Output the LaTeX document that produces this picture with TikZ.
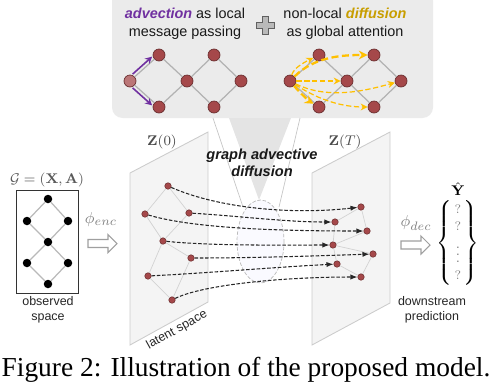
\documentclass[tikz,border=0pt]{standalone}
\usepackage[no-math]{fontspec}
\setmainfont{Liberation Sans}
\newfontfamily\capfont{Liberation Serif}
\usepackage{xcolor}
\definecolor{nodecol}{RGB}{165, 72, 74}
\definecolor{advcol}{RGB}{112, 48, 160}
\definecolor{difftxt}{RGB}{200, 158, 0}
\definecolor{diffcol}{RGB}{255, 192, 0}
\definecolor{panelcol}{RGB}{235, 235, 235}
\definecolor{conecol}{RGB}{228, 228, 228}
\definecolor{planecol}{RGB}{244, 244, 244}
\usepackage{tikz}
\usetikzlibrary{positioning, arrows.meta, calc}

\begin{document}
\begin{tikzpicture}[x=0.02cm, y=-0.02cm,
  topnode/.style={circle, fill=nodecol, draw=nodecol!65!black, line width=0.4pt,
                  inner sep=0pt, minimum size=0.24cm},
  latnode/.style={circle, fill=nodecol, draw=nodecol!65!black, line width=0.3pt,
                  inner sep=0pt, minimum size=0.13cm},
  obsnode/.style={circle, fill=black, inner sep=0pt, minimum size=0.17cm},
  topedge/.style={draw=gray!60, line width=0.7pt},
  latedge/.style={draw=gray!35, line width=0.4pt},
  plane/.style={fill=planecol, draw=gray!40, line width=0.5pt},
  traj/.style={dash pattern=on 2pt off 1pt, line width=0.6pt, draw=black!85,
               -{Latex[length=4pt, width=3pt]}},
  advarrow/.style={draw=advcol, line width=0.9pt, -{Stealth[length=4pt, width=4pt]}},
  diffthin/.style={draw=diffcol, dash pattern=on 3pt off 1.5pt, line width=0.7pt,
                   -{Stealth[length=4pt, width=4pt]}},
  diffthick/.style={draw=diffcol, dash pattern=on 4pt off 2pt, line width=1.3pt,
                    -{Stealth[length=5pt, width=5pt]}},
  hollowarrow/.style={draw=gray!75, fill=white, line width=0.6pt},
  sflabel/.style={font=\fontsize{7.1}{8.5}\selectfont, text=black!85, align=center},
  paneltxt/.style={font=\fontsize{8.2}{10.2}\selectfont, text=black!90, align=center},
  mathlabel/.style={font=\fontsize{8.2}{10}\selectfont, text=black!65}]

  \useasboundingbox (0,0) rectangle (492,386);
  \clip (0,0) rectangle (492,386);

  % top panel
  \fill[panelcol, rounded corners=6pt] (112,-10) rectangle (433,118);
  \node[paneltxt] (advtxt) at (185,24)
        {\textcolor{advcol}{\bfseries\itshape advection} as local\\message passing};
  \node[paneltxt] (difftxt) at (345,24)
        {non-local \textcolor{difftxt}{\bfseries\itshape diffusion}\\as global attention};
  \filldraw[fill=gray!55, draw=gray!75!black, line width=0.4pt]
    (262,16) -- (268,16) -- (268,22) -- (274,22) -- (274,28) -- (268,28) -- (268,34)
    -- (262,34) -- (262,28) -- (256,28) -- (256,22) -- (262,22) -- cycle;

  \node[topnode, fill=nodecol!75!white] (a0) at (130,81) {};
  \node[topnode] (a1) at (159,55) {};
  \node[topnode] (a2) at (159,107) {};
  \node[topnode] (a3) at (187,81) {};
  \node[topnode] (a4) at (214,55) {};
  \node[topnode] (a5) at (214,107) {};
  \node[topnode] (a6) at (241,81) {};
  \draw[topedge] (a0) -- (a1) -- (a3) -- (a2) -- (a0);
  \draw[topedge] (a3) -- (a4) -- (a6) -- (a5) -- (a3);
  \draw[advarrow, transform canvas={xshift=-1.2pt, yshift=1.5pt}] (a0) -- (a1);
  \draw[advarrow, transform canvas={xshift=-1.2pt, yshift=-1.5pt}] (a0) -- (a2);

  \node[topnode] (b0) at (290,81) {};
  \node[topnode] (b1) at (319,55) {};
  \node[topnode] (b2) at (319,107) {};
  \node[topnode] (b3) at (347,81) {};
  \node[topnode] (b4) at (374,55) {};
  \node[topnode] (b5) at (374,107) {};
  \node[topnode] (b6) at (401,81) {};
  \draw[topedge] (b0) -- (b1) -- (b3) -- (b2) -- (b0);
  \draw[topedge] (b3) -- (b4) -- (b6) -- (b5) -- (b3);
  \draw[diffthin] (b0) .. controls +(4,-14) and +(-12,6) .. (b1);
  \draw[diffthick] (b0) .. controls +(25,-25) and +(-30,0) .. (b4);
  \draw[diffthin] (b0) -- (b3);
  \draw[diffthin] (b0) .. controls +(40,20) and +(-30,8) .. (b6);
  \draw[diffthin] (b0) .. controls +(30,20) and +(-30,0) .. (b5);
  \draw[diffthick] (b0) .. controls +(10,12) and +(-10,-6) .. (b2);

  % zoom cone
  \fill[conecol] (229,118) -- (291,118) -- (259,200) -- cycle;
  \draw[gray!45, line width=0.4pt] (213,118) -- (243,207);
  \draw[gray!45, line width=0.4pt] (300,118) -- (279,207);
  \filldraw[fill=blue!2!white, draw=gray!55, dash pattern=on 2pt off 1pt, line width=0.4pt]
    (260.5,241.5) ellipse [x radius=23.5, y radius=41.5];

  % latent planes
  \filldraw[plane] (130,173) -- (208,132) -- (208,302) -- (130,345) -- cycle;
  \filldraw[plane] (312,173) -- (390,132) -- (390,303) -- (312,345) -- cycle;
  \node[mathlabel, text=black!70] (z0) at (162,142) {$\mathbf{Z}(0)$};
  \node[mathlabel, text=black!70] (zt) at (345,142) {$\mathbf{Z}(T)$};
  \node[sflabel, rotate=29] (lat) at (177,330) {latent space};
  \node[font=\fontsize{8.3}{9.7}\selectfont\bfseries\itshape, text=black!90, align=center]
        (gad) at (262,163) {graph advective\\diffusion};

  \node[latnode] (za1) at (168,186) {};
  \node[latnode] (za2) at (145,214) {};
  \node[latnode] (za3) at (189,213) {};
  \node[latnode] (za4) at (163,241) {};
  \node[latnode] (za5) at (191,258) {};
  \node[latnode] (za6) at (148,276) {};
  \node[latnode] (za7) at (172,300) {};
  \draw[latedge] (za1) -- (za2) -- (za4) -- (za3) -- (za1);
  \draw[latedge] (za4) -- (za5) -- (za7) -- (za6) -- (za4);

  \node[latnode] (zb1) at (361,207) {};
  \node[latnode] (zb2) at (335,222) {};
  \node[latnode] (zb3) at (367,231) {};
  \node[latnode] (zb4) at (333,245) {};
  \node[latnode] (zb5) at (373,254) {};
  \node[latnode] (zb6) at (337,264) {};
  \node[latnode] (zb7) at (361,277) {};
  \draw[latedge] (zb1) -- (zb2) -- (zb4) -- (zb3) -- (zb1);
  \draw[latedge] (zb4) -- (zb5) -- (zb7) -- (zb6) -- (zb4);

  \draw[traj] (za1) .. controls +(50,22) and +(-70,8) .. (zb1);
  \draw[traj] (za3) .. controls +(50,3) and +(-50,0) .. (zb2);
  \draw[traj] (za2) .. controls +(50,15) and +(-80,0) .. (zb3);
  \draw[traj] (za4) .. controls +(50,5) and +(-50,0) .. (zb4);
  \draw[traj] (za5) .. controls +(60,0) and +(-60,2) .. (zb5);
  \draw[traj] (za6) .. controls +(60,-3) and +(-60,3) .. (zb6);
  \draw[traj] (za7) .. controls +(30,-15) and +(-80,0) .. (zb7);

  % observed graph
  \node[mathlabel] (glabel) at (47,180) {$\mathcal{G}=(\mathbf{X},\mathbf{A})$};
  \draw[black!80, line width=0.5pt] (16,190) rectangle (78,293);
  \node[obsnode] (g1) at (48,199) {};
  \node[obsnode] (g2) at (27,221) {};
  \node[obsnode] (g3) at (68,221) {};
  \node[obsnode] (g4) at (48,242) {};
  \node[obsnode] (g5) at (27,263) {};
  \node[obsnode] (g6) at (68,263) {};
  \node[obsnode] (g7) at (48,284) {};
  \draw[topedge, draw=gray!55] (g1) -- (g2) -- (g4) -- (g3) -- (g1);
  \draw[topedge, draw=gray!55] (g4) -- (g5) -- (g7) -- (g6) -- (g4);
  \node[sflabel] (obs) at (48,310) {observed\\space};

  % encoder / decoder
  \node[mathlabel, text=black!50, font=\fontsize{9.5}{11}\selectfont] (enc) at (101,220) {$\phi_{enc}$};
  \draw[hollowarrow] (88,239.5) -- (108,239.5) -- (108,234.5) -- (117,243.5)
    -- (108,252.5) -- (108,247.5) -- (88,247.5) -- cycle;
  \node[mathlabel, text=black!50, font=\fontsize{9.5}{11}\selectfont] (dec) at (416,223) {$\phi_{dec}$};
  \draw[hollowarrow] (401,241) -- (421,241) -- (421,236) -- (430,245)
    -- (421,254) -- (421,249) -- (401,249) -- cycle;

  % prediction
  \node[mathlabel, text=black] (yhat) at (458,189) {$\hat{\mathbf{Y}}$};
  \node[font=\fontsize{7.5}{10}\selectfont, inner sep=0pt] (yvec) at (458,243)
        {\renewcommand{\arraystretch}{1.0}\setlength{\arraycolsep}{1.5pt}%
         $\left\{\begin{array}{c}\color{black!50}?\\\color{black!50}?\\
          \color{black!50}\vdots\\\color{black!50}?\end{array}\right\}$};
  \node[sflabel] (pred) at (432,310) {downstream\\prediction};

  % caption
  \node[font=\fontsize{15.6}{18}\capfont, anchor=base] (cap) at (246,376)
        {Figure 2: Illustration of the proposed model.};
\end{tikzpicture}
\end{document}
